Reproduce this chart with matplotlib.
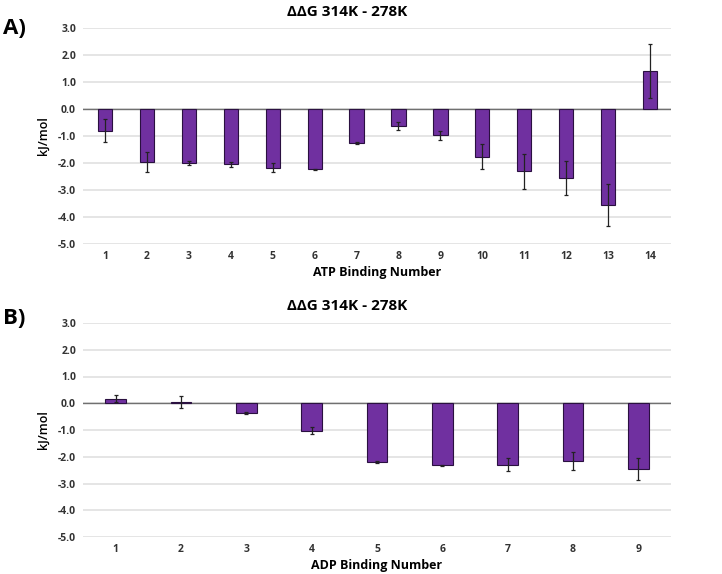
import numpy as np
import matplotlib
matplotlib.use('Agg')
import matplotlib.pyplot as plt

# ATP binding numbers (panel A)
atp_sites = list(range(1, 15))
atp_ddg = [-0.80, -1.97, -2.00, -2.05, -2.18, -2.24, -1.26, -0.62, -0.98, -1.77, -2.31, -2.56, -3.56, 1.42]
atp_err = [0.42, 0.37, 0.07, 0.08, 0.17, 0.02, 0.05, 0.15, 0.18, 0.46, 0.65, 0.62, 0.78, 1.00]

# ADP binding numbers (panel B)
adp_sites = list(range(1, 10))
adp_ddg = [0.17, 0.05, -0.37, -1.02, -2.20, -2.32, -2.30, -2.16, -2.46]
adp_err = [0.14, 0.23, 0.03, 0.12, 0.04, 0.03, 0.24, 0.33, 0.41]

yticks = [3, 2, 1, 0, -1, -2, -3, -4, -5]

plt.rcParams['font.family'] = ['Open Sans', 'DejaVu Sans']

fig = plt.figure(figsize=(7.22, 5.74), dpi=100)
W, H = 722, 574

def panel(rect, sites, vals, errs, width, xlim, xlabel, letter, letter_y):
    l, t, r, b = rect
    ax = fig.add_axes([l / W, 1 - b / H, (r - l) / W, (b - t) / H])
    ax.bar(sites, vals, width=width, color='#7030A0', edgecolor='#2a1040',
           linewidth=0.8, zorder=3)
    ax.errorbar(sites, vals, yerr=errs, fmt='none', ecolor='#222222',
                elinewidth=0.9, capsize=1.5, capthick=0.9, zorder=4)
    ax.axhline(0, color='#707070', linewidth=1.0, zorder=2)
    ax.set_ylim(-5, 3)
    ax.set_xlim(*xlim)
    ax.set_yticks(yticks)
    ax.set_yticklabels([f'{v:.1f}' for v in yticks])
    ax.set_xticks(sites)
    ax.set_xticklabels([str(s) for s in sites])
    ax.grid(axis='y', color='#e0e0e0', linewidth=1.2, zorder=0)
    for s in ax.spines.values():
        s.set_visible(False)
    ax.tick_params(length=0, labelsize=7.5, colors='#333333', pad=5)
    for lab in ax.get_xticklabels() + ax.get_yticklabels():
        lab.set_fontweight('bold')
    ax.set_xlabel(xlabel, fontsize=9, fontweight='bold', labelpad=3)
    ax.set_ylabel('kJ/mol', fontsize=9, fontweight='semibold', labelpad=6)
    ax.set_title('ΔΔG 314K - 278K', fontsize=11, fontweight='bold', pad=9, x=0.45)
    fig.text(3 / W, 1 - letter_y / H, letter, fontsize=16, fontweight='bold',
             va='center', ha='left')
    return ax

panel((83, 28, 671, 244), atp_sites, atp_ddg, atp_err, 0.34, (0.475, 14.5),
      'ATP Binding Number', 'A)', 29)
panel((83, 323, 671, 537), adp_sites, adp_ddg, adp_err, 0.32, (0.5, 9.5),
      'ADP Binding Number', 'B)', 319)

fig.savefig('out.png', dpi=100)
